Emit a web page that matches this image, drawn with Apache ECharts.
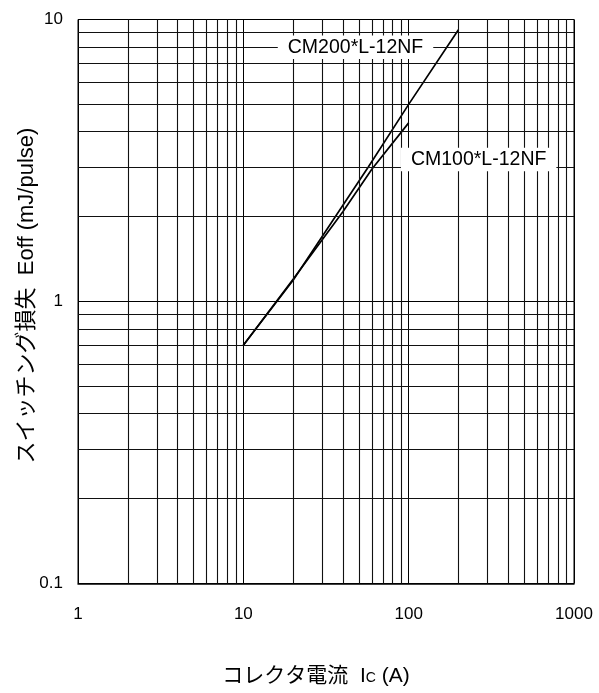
<!DOCTYPE html>
<html>
<head>
<meta charset="utf-8">
<script src="https://cdn.jsdelivr.net/npm/echarts@6/dist/echarts.min.js"></script>
<style>
  html, body { margin: 0; padding: 0; background: #fff; }
  #chart { width: 599px; height: 693px; }
</style>
</head>
<body>
<div id="chart"></div>
<script>
// Turn-off switching loss vs collector current (log-log)
const cm200Name = 'CM200*L-12NF';
const cm200Data = [[10, 0.70], [20, 1.19], [35, 1.95], [57, 3.0], [100, 5.0], [200, 9.2]];
const cm100Name = 'CM100*L-12NF';
const cm100Data = [[10, 0.70], [20, 1.20], [40, 2.08], [60, 2.95], [100, 4.3]];

// label anchor positions (data coordinates)
const cm200LabelAt = [47.7, 7.97];
const cm100LabelAt = [265, 3.19];

// minor grid values (decade lines come from the axes)
const xMinorGrid = [2, 3, 4, 5, 6, 7, 8, 9, 20, 30, 40, 50, 60, 70, 80, 90, 200, 300, 400, 500, 600, 700, 800, 900];
const yMinorGrid = [0.2, 0.3, 0.4, 0.5, 0.6, 0.7, 0.8, 0.9, 2, 3, 4, 5, 6, 7, 8, 9];

const xRange = [1, 1000];
const yRange = [0.1, 10];
const xTitle = 'コレクタ電流';
const yTitle = 'スイッチング損失  Eoff (mJ/pulse)';

const FONT = '"Liberation Sans", Arial, "Noto Sans CJK JP", sans-serif';

const chart = echarts.init(document.getElementById('chart'), null, { renderer: 'canvas' });

const gridLineData = xMinorGrid.map(v => ({ xAxis: v })).concat(yMinorGrid.map(v => ({ yAxis: v })));

chart.setOption({
  animation: false,
  backgroundColor: '#fff',
  textStyle: { fontFamily: FONT, color: '#000' },
  grid: {
    left: 78, right: 25, top: 19.5, bottom: 109.5,
    show: true, borderColor: '#000', borderWidth: 1, backgroundColor: 'transparent'
  },
  xAxis: {
    type: 'log', logBase: 10, min: xRange[0], max: xRange[1],
    axisLine: { show: true, lineStyle: { color: '#000', width: 1.5 } },
    axisTick: { show: false },
    splitLine: { show: true, lineStyle: { color: '#000', width: 1 } },
    minorTick: { show: false },
    axisLabel: {
      fontFamily: FONT, fontSize: 17, color: '#000', margin: 22,
      formatter: v => String(v)
    },
    name: '{t|' + xTitle + '  I}{s|C}{t| (A)}',
    nameLocation: 'middle', nameGap: 82,
    nameMoveOverlap: false,
    nameTextStyle: {
      padding: [0, 20, 0, 0],
      rich: {
        t: { fontFamily: FONT, fontSize: 21, color: '#000' },
        s: { fontFamily: FONT, fontSize: 14, color: '#000', verticalAlign: 'bottom', padding: [0, 0, 1, 0] }
      }
    }
  },
  yAxis: {
    type: 'log', logBase: 10, min: yRange[0], max: yRange[1],
    axisLine: { show: true, lineStyle: { color: '#000', width: 1 } },
    axisTick: { show: false },
    splitLine: { show: true, lineStyle: { color: '#000', width: 1 } },
    minorTick: { show: false },
    axisLabel: {
      fontFamily: FONT, fontSize: 17, color: '#000', margin: 15,
      formatter: v => (v < 1 ? v.toFixed(1) : String(Math.round(v)))
    },
    name: yTitle,
    nameLocation: 'middle', nameRotate: 90, nameGap: 40,
    nameMoveOverlap: false,
    nameTextStyle: { fontFamily: FONT, fontSize: 22, color: '#000', padding: [0, 0, 0, 12] }
  },
  series: [
    {
      name: 'grid',
      type: 'line',
      data: [],
      silent: true,
      z: 1,
      markLine: {
        silent: true,
        symbol: ['none', 'none'],
        label: { show: false },
        lineStyle: { color: '#111', width: 1.1, type: 'solid', opacity: 1 },
        data: gridLineData
      }
    },
    {
      name: cm200Name,
      type: 'line',
      data: cm200Data,
      showSymbol: false,
      smooth: false,
      z: 3,
      lineStyle: { color: '#000', width: 1.7 }
    },
    {
      name: cm100Name,
      type: 'line',
      data: cm100Data,
      showSymbol: false,
      smooth: false,
      z: 3,
      lineStyle: { color: '#000', width: 1.7 }
    },
    {
      name: 'labels',
      type: 'scatter',
      data: [],
      z: 5,
      silent: true,
      markPoint: {
        silent: true,
        symbol: 'rect',
        symbolSize: 0,
        label: {
          show: true,
          position: 'inside',
          fontFamily: FONT,
          fontSize: 19.5,
          color: '#000',
          backgroundColor: '#fff',
          padding: [2, 10, 2, 10],
          formatter: p => p.name
        },
        data: [
          { name: cm200Name, coord: cm200LabelAt },
          { name: cm100Name, coord: cm100LabelAt }
        ]
      }
    }
  ]
});
</script>
</body>
</html>
